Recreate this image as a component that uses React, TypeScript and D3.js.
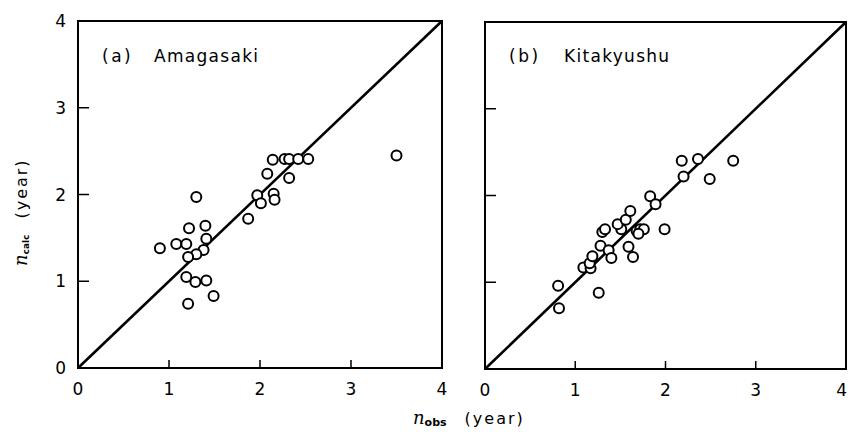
import React from "react";
import * as d3 from "d3";

// n_obs, n_calc pairs
const amagasakiObs = [0.9, 1.08, 1.19, 1.22, 1.4, 1.41, 1.38, 1.3, 1.21, 1.19, 1.29, 1.41, 1.49, 1.21, 1.87, 1.3, 2.14, 2.27, 2.32, 2.42, 2.53, 2.08, 2.32, 1.97, 2.01, 2.15, 2.16, 3.5];
const amagasakiCalc = [1.38, 1.43, 1.43, 1.61, 1.64, 1.49, 1.36, 1.31, 1.28, 1.05, 0.99, 1.01, 0.83, 0.74, 1.72, 1.97, 2.4, 2.41, 2.41, 2.41, 2.41, 2.24, 2.19, 1.99, 1.9, 2.01, 1.94, 2.45];

const kitakyushuObs = [0.81, 0.82, 1.26, 1.09, 1.17, 1.16, 1.19, 1.28, 1.37, 1.4, 1.59, 1.64, 1.3, 1.33, 1.51, 1.47, 1.56, 1.61, 1.68, 1.72, 1.76, 1.7, 1.99, 1.83, 1.89, 2.18, 2.36, 2.75, 2.2, 2.49];
const kitakyushuCalc = [0.96, 0.7, 0.88, 1.17, 1.16, 1.22, 1.3, 1.42, 1.37, 1.28, 1.41, 1.29, 1.58, 1.61, 1.61, 1.67, 1.72, 1.82, 1.59, 1.61, 1.61, 1.56, 1.61, 1.99, 1.9, 2.4, 2.42, 2.4, 2.22, 2.19];

const xTicks = [0, 1, 2, 3, 4];
const yTicks = [0, 1, 2, 3, 4];
const innerTicks = [1, 2, 3];

const FONT = "'DejaVu Sans', 'Liberation Sans', sans-serif";

type PanelProps = {
  x0: number;
  x1: number;
  y0: number;
  y1: number;
  obs: number[];
  calc: number[];
  tag: string;
  name: string;
  nameX: number;
  yLabels: boolean;
};

function Panel({ x0, x1, y0, y1, obs, calc, tag, name, nameX, yLabels }: PanelProps) {
  const x = d3.scaleLinear().domain([0, 4]).range([x0, x1]);
  const y = d3.scaleLinear().domain([0, 4]).range([y0, y1]);
  const diag = d3.line<number>()
    .x((d) => x(d))
    .y((d) => y(d));

  return (
    <g>
      <rect x={x0} y={y1} width={x1 - x0} height={y0 - y1} fill="none" stroke="#000" strokeWidth={2} />
      {innerTicks.map((t) => (
        <line key={"xt" + t} x1={x(t)} x2={x(t)} y1={y0} y2={y0 - 8} stroke="#000" strokeWidth={1.5} />
      ))}
      {innerTicks.map((t) => (
        <line key={"yt" + t} x1={x0} x2={x0 + 11} y1={y(t)} y2={y(t)} stroke="#000" strokeWidth={1.5} />
      ))}
      <path d={diag([0, 4]) || ""} stroke="#000" strokeWidth={2.6} fill="none" />
      {obs.map((d, i) => (
        <circle key={i} cx={x(d)} cy={y(calc[i])} r={5} fill="#fff" stroke="#000" strokeWidth={2} />
      ))}
      {xTicks.map((t) => {
        // the last label sits right at the page edge, keep it inside
        const atEdge = x(t) > 840;
        return (
          <text key={"xl" + t} x={atEdge ? 847 : x(t)} y={y0 + 27}
            textAnchor={atEdge ? "end" : "middle"} fontSize={17} fontFamily={FONT}>
            {t}
          </text>
        );
      })}
      {yLabels &&
        yTicks.map((t) => (
          <text key={"yl" + t} x={x0 - 12} y={y(t) + 6} textAnchor="end" fontSize={17} fontFamily={FONT}>
            {t}
          </text>
        ))}
      <text x={x0 + 24} y={62} fontSize={17} fontFamily={FONT} letterSpacing={2.5}>
        {tag}
      </text>
      <text x={nameX} y={62} fontSize={17} fontFamily={FONT} letterSpacing={1.3}>
        {name}
      </text>
    </g>
  );
}

export default function App() {
  return (
    <svg
      width={848}
      height={432}
      style={{ position: "absolute", left: 0, top: 0, background: "#fff" }}
    >
      <rect width={848} height={432} fill="#fff" />
      <Panel x0={78} x1={442} y0={368} y1={21} obs={amagasakiObs} calc={amagasakiCalc}
        tag="(a)" name="Amagasaki" nameX={154} yLabels={true} />
      <Panel x0={485} x1={846} y0={369} y1={22} obs={kitakyushuObs} calc={kitakyushuCalc}
        tag="(b)" name="Kitakyushu" nameX={564} yLabels={false} />
      <text x={413} y={424} fontFamily={FONT} fontSize={18}>
        <tspan fontStyle="italic" fontFamily="'DejaVu Serif', serif">n</tspan>
        <tspan fontSize={11} dy={2} fontWeight="bold">obs</tspan>
        <tspan dy={-2} dx={18} fontSize={16} letterSpacing={2}>(year)</tspan>
      </text>
      <text transform="translate(27,266) rotate(-90)" fontFamily={FONT} fontSize={18}>
        <tspan fontStyle="italic" fontFamily="'DejaVu Serif', serif">n</tspan>
        <tspan fontSize={9} dy={2} fontWeight="bold">calc</tspan>
        <tspan dy={-2} dx={16} fontSize={16} letterSpacing={2}>(year)</tspan>
      </text>
    </svg>
  );
}
